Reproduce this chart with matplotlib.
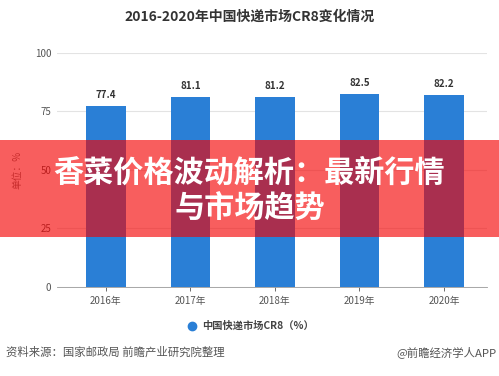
import matplotlib
matplotlib.use("Agg")
import matplotlib.pyplot as plt
from matplotlib.patches import Rectangle

plt.rcParams['font.family'] = ['Noto Sans CJK SC', 'DejaVu Sans']

years = ["2016年", "2017年", "2018年", "2019年", "2020年"]
cr8 = [77.4, 81.1, 81.2, 82.5, 82.2]
yticks = [0, 25, 50, 75, 100]

title = "2016-2020年中国快递市场CR8变化情况"
legend_label = "中国快递市场CR8（%）"
source = "资料来源：国家邮政局 前瞻产业研究院整理"
credit = "@前瞻经济学人APP"
banner = "香菜价格波动解析：最新行情\n与市场趋势"

bar_color = "#2a7fd6"

fig = plt.figure(figsize=(4.99, 3.76), dpi=100)
ax = fig.add_axes([0.114, 0.237, 0.862, 0.622])

x = list(range(len(years)))
ax.bar(x, cr8, width=0.47, color=bar_color, zorder=2)
for xi, v in zip(x, cr8):
    ax.text(xi, v + 2.5, f"{v}", ha="center", va="bottom", fontsize=7,
            fontweight="bold", color="#333333")

ax.set_ylim(0, 100)
ax.set_xlim(-0.58, 4.51)
ax.set_yticks(yticks)
ax.set_xticks(x)
ax.set_xticklabels(years)
ax.grid(axis="y", color="#e3e3e3", linewidth=0.8, zorder=0)
ax.tick_params(axis="y", length=0, labelsize=7, colors="#555555", pad=4)
ax.tick_params(axis="x", length=3, labelsize=7, colors="#555555", width=0.6)
for s in ["top", "right", "left"]:
    ax.spines[s].set_visible(False)
ax.spines["bottom"].set_color("#999999")
ax.spines["bottom"].set_linewidth(0.6)
ax.set_ylabel("单位：%", fontsize=7, color="#777777", labelpad=9)

fig.text(0.5, 0.955, title, ha="center", va="center", fontsize=10,
         fontweight="bold", color="#333333")

# legend
fig.lines.append(plt.Line2D([0.384], [0.133], marker="o", markersize=6,
                            color=bar_color, transform=fig.transFigure))
fig.text(0.405, 0.133, legend_label, ha="left", va="center", fontsize=7.4,
         fontweight="bold", color="#444444")

fig.text(0.012, 0.063, source, ha="left", va="center", fontsize=8.2, color="#555555")
fig.text(0.994, 0.063, credit, ha="right", va="center", fontsize=8.2, color="#555555")

# banner overlay
fig.patches.append(Rectangle((0, 1 - 237 / 376), 1, 97 / 376, transform=fig.transFigure,
                             facecolor=(0.96, 0.0, 0.0), alpha=0.63, zorder=5))
fig.text(0.5, 1 - 191 / 376, banner, ha="center", va="center", fontsize=21.7,
         fontweight="bold", color="white", linespacing=1.25, zorder=6)

fig.savefig("out.png", dpi=100)
